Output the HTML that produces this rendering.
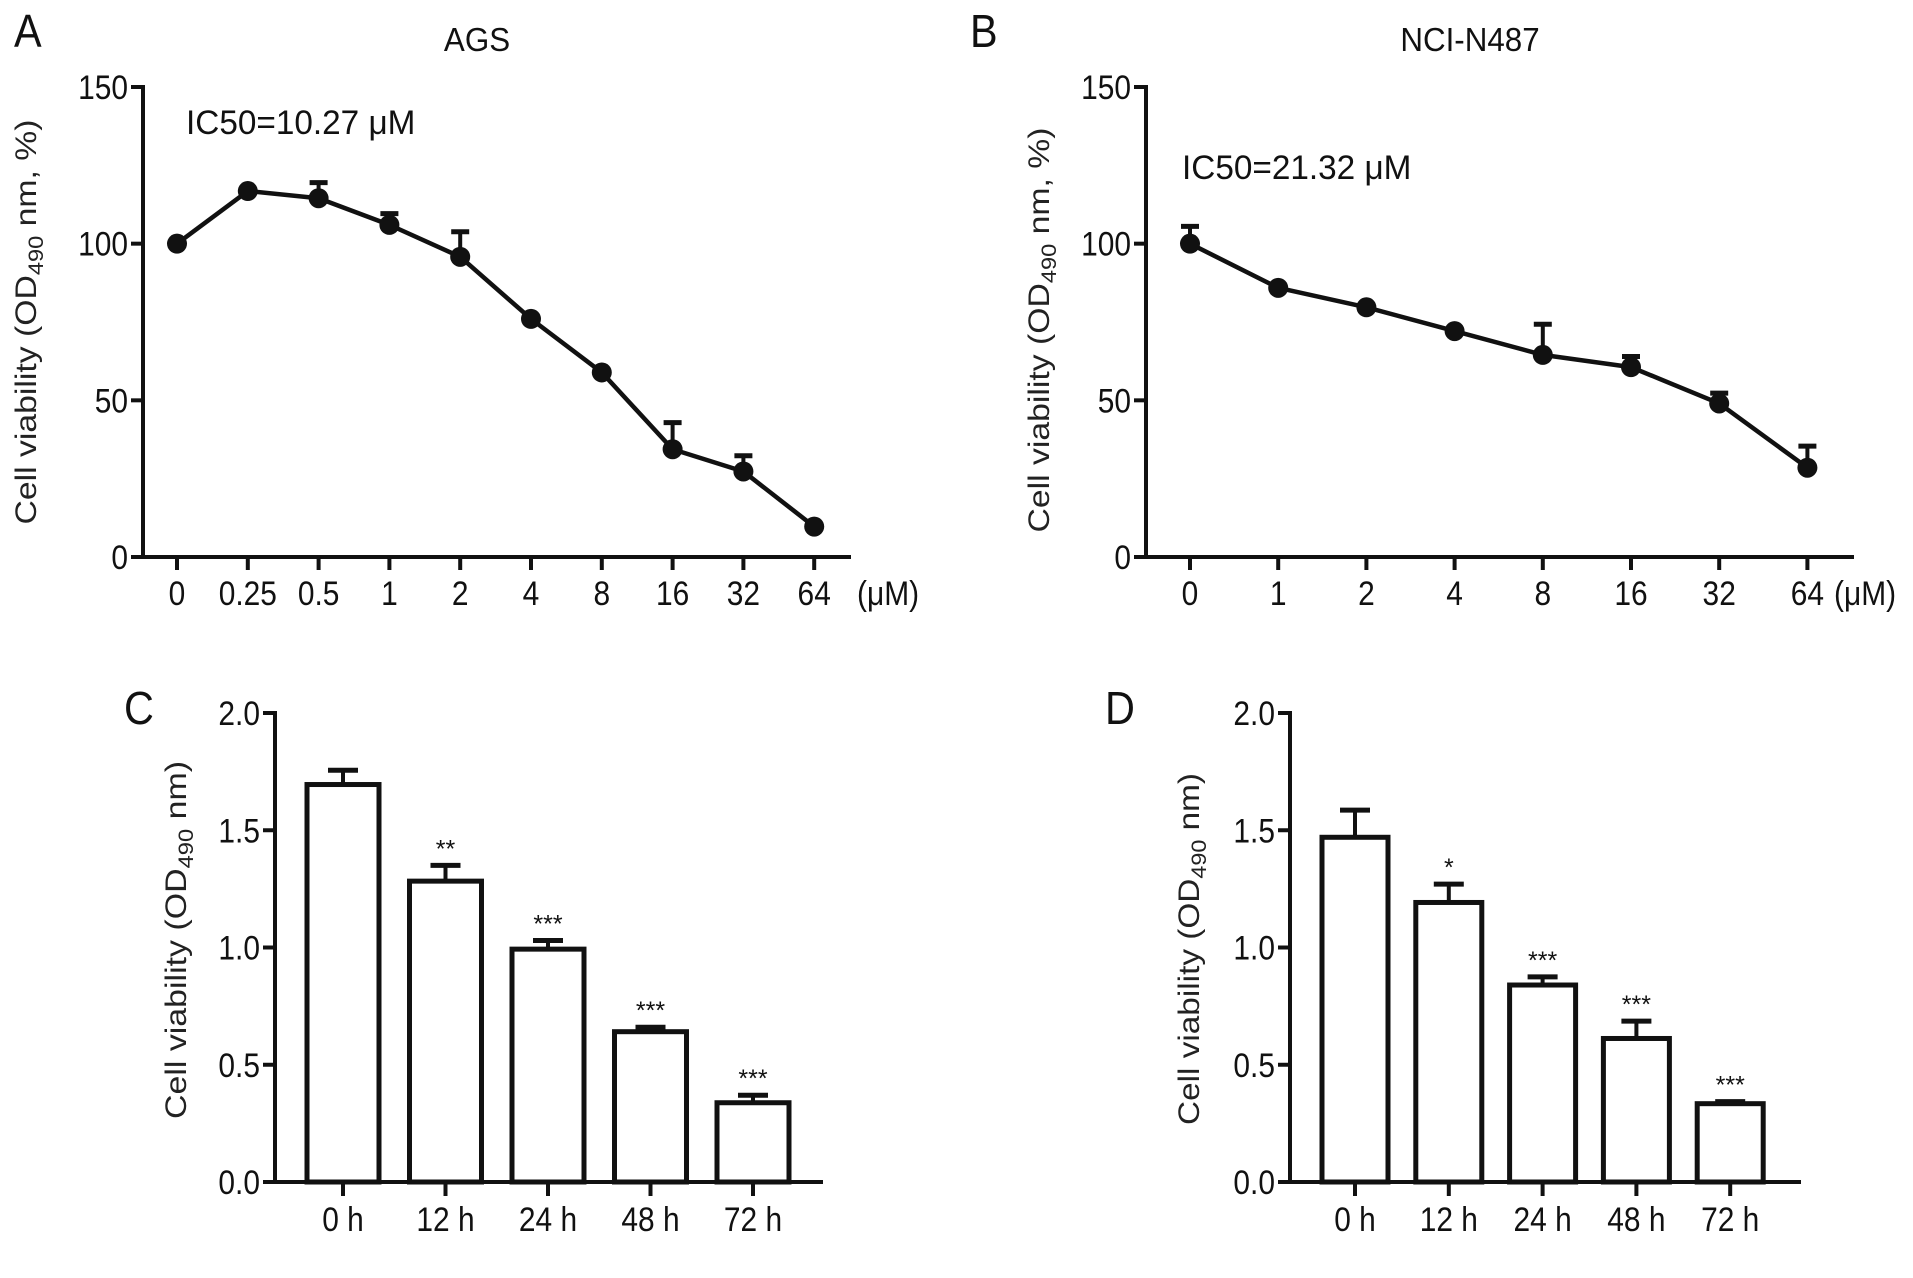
<!DOCTYPE html>
<html><head><meta charset="utf-8"><style>
html,body{margin:0;padding:0;background:#fff;overflow:hidden;}
svg{display:block;font-family:"Liberation Sans",sans-serif;}
</style></head><body>
<svg id="fig" width="1913" height="1278" viewBox="0 0 1913 1278"></svg>
<script>
// Panel A data
const aCats = ["0","0.25","0.5","1","2","4","8","16","32","64"];
const aVals = [100,116.8,114.5,106,95.8,76,58.9,34.4,27.3,9.7];
const aErr  = [0,0,5,3.6,8,0,0,8.5,5,0];
const aTicks = [0,50,100,150];
// Panel B data
const bCats = ["0","1","2","4","8","16","32","64"];
const bVals = [100,85.9,79.7,72.1,64.5,60.6,49,28.5];
const bErr  = [5.5,0,0,0,9.8,3.4,3.3,6.9];
const bTicks = [0,50,100,150];
// Panel C data
const cCats = ["0 h","12 h","24 h","48 h","72 h"];
const cVals = [1.695,1.283,0.993,0.641,0.338];
const cErr  = [0.061,0.067,0.037,0.019,0.032];
const cSig  = ["","**","***","***","***"];
const cTicks = ["0.0","0.5","1.0","1.5","2.0"];
// Panel D data
const dCats = ["0 h","12 h","24 h","48 h","72 h"];
const dVals = [1.47,1.192,0.84,0.612,0.334];
const dErr  = [0.116,0.078,0.035,0.074,0.009];
const dSig  = ["","*","***","***","***"];
const dTicks = ["0.0","0.5","1.0","1.5","2.0"];

const NS="http://www.w3.org/2000/svg";
const svg=document.getElementById('fig');
function mk(tag,attrs,parent){const e=document.createElementNS(NS,tag);for(const k in attrs)e.setAttribute(k,attrs[k]);(parent||svg).appendChild(e);return e;}
function txt(s,x,y,size,anchor,sx,parent){
  const t=mk('text',{x:0,y:0,'font-size':size,'text-anchor':anchor||'middle',fill:'#111',transform:`translate(${x},${y}) scale(${sx||1},1)`},parent);
  t.textContent=s;return t;
}
function ylabel(g,cx,cy,len,suffix){
  const t=mk('text',{x:0,y:0,'font-size':30,'text-anchor':'middle',fill:'#222',transform:`translate(${cx},${cy}) rotate(-90)`,textLength:len,lengthAdjust:'spacingAndGlyphs'},g);
  
  
  const a=document.createElementNS(NS,'tspan');a.textContent='Cell viability (OD';t.appendChild(a);
  const b=document.createElementNS(NS,'tspan');b.setAttribute('font-size','21');b.setAttribute('dy','7');b.textContent='490';t.appendChild(b);
  const c=document.createElementNS(NS,'tspan');c.setAttribute('dy','-7');c.textContent=suffix;t.appendChild(c);
}

function linePanel(o){
  const g=mk('g',{});
  
  
  const y=v=>o.y0+(o.y1-o.y0)*v/150;
  const x=i=>o.xs+i*o.dx;
  mk('line',{x1:o.ax,y1:o.y1-2,x2:o.ax,y2:o.y0+2,stroke:'#111','stroke-width':4},g);
  mk('line',{x1:o.ax-2,y1:o.y0,x2:o.xe,y2:o.y0,stroke:'#111','stroke-width':4},g);
  o.ticks.forEach(v=>{
    mk('line',{x1:o.ax-12,y1:y(v),x2:o.ax,y2:y(v),stroke:'#111','stroke-width':4},g);
    const t=txt(String(v),o.ax-15,y(v)+12,34,'end',0.88,g);
    
    
  });
  o.cats.forEach((c,i)=>{
    mk('line',{x1:x(i),y1:o.y0,x2:x(i),y2:o.y0+13,stroke:'#111','stroke-width':4},g);
    const t=txt(c,x(i),o.y0+48,34,'middle',0.88,g);
    
    
  });
  const u=txt('(μM)',o.xe+(o.unitDx||8),o.y0+48,34,'start',0.88,g);
  
  
  const pts=o.vals.map((v,i)=>x(i)+','+y(v)).join(' ');
  const pl=mk('polyline',{points:pts,fill:'none',stroke:'#111','stroke-width':4.5,'stroke-linejoin':'round'},g);
  
  
  o.vals.forEach((v,i)=>{
    if(o.err[i]>0){
      const yt=y(v+o.err[i]);
      mk('line',{x1:x(i),y1:y(v),x2:x(i),y2:yt,stroke:'#111','stroke-width':4},g);
      const cap=mk('line',{x1:x(i)-9,y1:yt,x2:x(i)+9,y2:yt,stroke:'#111','stroke-width':5},g);
      
      
    }
    const c=mk('circle',{cx:x(i),cy:y(v),r:10,fill:'#111'},g);
    
    
  });
  const ti=txt(o.title,o.tx,51,33,'middle',0.95,g);
  
  
  const ic=txt(o.ic,o.icx,o.icy,34,'start',0.98,g);
  
  
  const L=txt(o.letter,o.lx,47,46,'start',0.9,g);
  
  
  ylabel(g,o.ylx,o.yly,o.ylen,' nm, %)');
}

function barPanel(o){
  const g=mk('g',{});
  
  
  const y=v=>o.y0+(o.y1-o.y0)*v/2;
  const x=i=>o.xs+i*o.dx;
  mk('line',{x1:o.ax,y1:o.y1-2,x2:o.ax,y2:o.y0+2,stroke:'#111','stroke-width':4},g);
  o.ticks.forEach(s=>{
    const v=parseFloat(s);
    mk('line',{x1:o.ax-12,y1:y(v),x2:o.ax,y2:y(v),stroke:'#111','stroke-width':4},g);
    const t=txt(s,o.ax-15,y(v)+12,34,'end',0.88,g);
    
    
  });
  o.vals.forEach((v,i)=>{
    const yt=y(v+o.err[i]);
    mk('line',{x1:x(i),y1:y(v),x2:x(i),y2:yt,stroke:'#111','stroke-width':4},g);
    const cap=mk('line',{x1:x(i)-15,y1:yt,x2:x(i)+15,y2:yt,stroke:'#111','stroke-width':5},g);
    
    
    const r=mk('rect',{x:x(i)-o.bw/2,y:y(v),width:o.bw,height:o.y0-y(v),fill:'#fff',stroke:'#111','stroke-width':5},g);
    
    
    if(o.sig[i]){
      const s=txt(o.sig[i],x(i),yt-8,25,'middle',1,g);
      
      
    }
    mk('line',{x1:x(i),y1:o.y0,x2:x(i),y2:o.y0+14,stroke:'#111','stroke-width':4},g);
    const t=txt(o.cats[i],x(i),o.y0+49,34,'middle',0.88,g);
    
    
  });
  mk('line',{x1:o.ax-2,y1:o.y0,x2:o.xe,y2:o.y0,stroke:'#111','stroke-width':4},g);
  const L=txt(o.letter,o.lx,724,46,'start',0.9,g);
  
  
  ylabel(g,o.ylx,o.yly,o.ylen,' nm)');
}

linePanel({name:'panel-a-ags',cats:aCats,vals:aVals,err:aErr,ticks:aTicks,ax:143,y0:557,y1:87,xe:851,xs:177,dx:70.8,title:'AGS',tx:477,ic:'IC50=10.27 μM',icx:186,icy:134,letter:'A',lx:14,ylx:36,yly:322,ylen:405,unitDx:6});
linePanel({name:'panel-b-nci-n487',cats:bCats,vals:bVals,err:bErr,ticks:bTicks,ax:1146,y0:557,y1:87,xe:1854,xs:1190,dx:88.2,title:'NCI-N487',tx:1470,ic:'IC50=21.32 μM',icx:1182,icy:179,letter:'B',lx:970,ylx:1049,yly:330,ylen:405,unitDx:-20});
barPanel({name:'panel-c-ags-bars',cats:cCats,vals:cVals,err:cErr,sig:cSig,ticks:cTicks,ax:275,y0:1182,y1:713,xe:823,xs:343,dx:102.5,bw:72,letter:'C',lx:124,ylx:186,yly:940,ylen:358});
barPanel({name:'panel-d-nci-bars',cats:dCats,vals:dVals,err:dErr,sig:dSig,ticks:dTicks,ax:1290,y0:1182,y1:713,xe:1801,xs:1355,dx:93.8,bw:66,letter:'D',lx:1105,ylx:1199,yly:949,ylen:352});
</script>
</body></html>
